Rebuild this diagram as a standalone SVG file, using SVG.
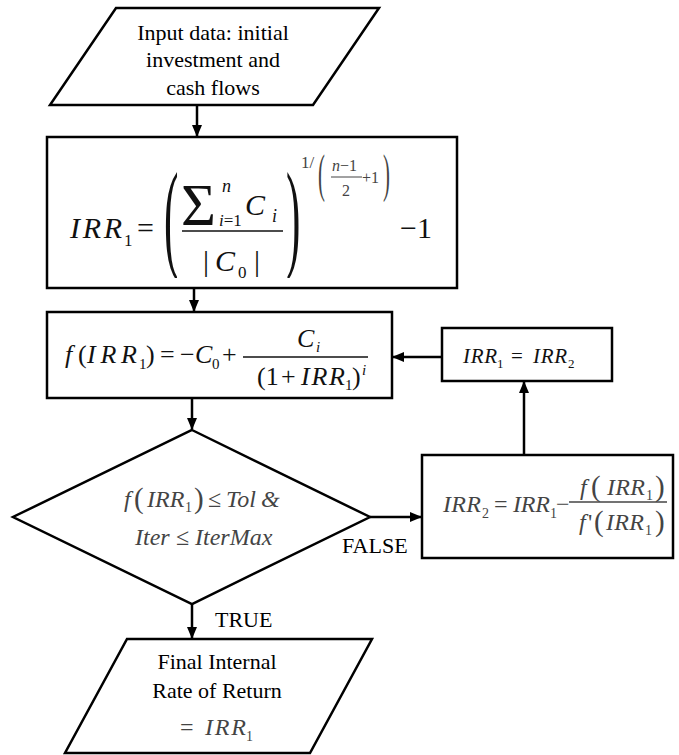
<svg xmlns="http://www.w3.org/2000/svg" width="679" height="755" viewBox="0 0 679 755" font-family="'Liberation Serif', 'Times New Roman', 'DejaVu Serif', serif">
<style>
.shape{fill:#fff;stroke:#000;stroke-width:2.5}
.lbl{font-family:'Liberation Serif','Times New Roman','DejaVu Serif',serif;font-size:22px;fill:#000}
.m{font-family:'Liberation Serif','Times New Roman','DejaVu Serif',serif;fill:#111}
.it{font-style:italic}
.g{fill:#444}
.conn{stroke:#000;stroke-width:2.5;fill:none}
.frac{stroke:#111;stroke-width:1.3}
</style>
<defs>
<marker id="ah" markerUnits="userSpaceOnUse" markerWidth="12" markerHeight="12" viewBox="0 0 12 12" refX="11" refY="6" orient="auto">
<path d="M0,1 L12,6 L0,11 Z" fill="#000"/>
</marker>
<clipPath id="clip1"><rect x="47" y="137" width="410" height="141"/></clipPath>
</defs>

<g id="connectors">
<line class="conn" x1="197" y1="105" x2="197" y2="136" marker-end="url(#ah)"/>
<line class="conn" x1="194" y1="288" x2="194" y2="311" marker-end="url(#ah)"/>
<line class="conn" x1="192" y1="398" x2="192" y2="429" marker-end="url(#ah)"/>
<line class="conn" x1="192" y1="604" x2="192" y2="638" marker-end="url(#ah)"/>
<line class="conn" x1="370" y1="517" x2="421" y2="517" marker-end="url(#ah)"/>
<line class="conn" x1="524" y1="455" x2="524" y2="382" marker-end="url(#ah)"/>
<line class="conn" x1="442" y1="357" x2="393" y2="357" marker-end="url(#ah)"/>
<text class="lbl" x="215" y="627">TRUE</text>
<text class="lbl" x="342" y="553">FALSE</text>
</g>

<g id="input">
<polygon class="shape" points="116,8 379,8 313,105 50,105"/>
<text class="lbl" text-anchor="middle" x="213" y="40">Input data: initial</text>
<text class="lbl" text-anchor="middle" x="213" y="67">investment and</text>
<text class="lbl" text-anchor="middle" x="213" y="95">cash flows</text>
</g>

<g id="irr-initial">
<rect class="shape" x="47" y="137" width="410" height="151"/>
<text class="m it" x="70" y="238" font-size="30" textLength="52" lengthAdjust="spacing">IRR</text>
<text class="m" x="124" y="246" font-size="17">1</text>
<text class="m" x="137" y="238" font-size="30">=</text>
<g clip-path="url(#clip1)">
<text class="m" font-size="120" transform="translate(164,256) scale(0.36,1)">(</text>
<text class="m" font-size="120" transform="translate(286,256) scale(0.36,1)">)</text>
</g>
<text class="m" x="181" y="225" font-size="60">Σ</text>
<text class="m it" x="222" y="192" font-size="18">n</text>
<text class="m" x="219" y="226" font-size="17"><tspan class="it">i</tspan>=1</text>
<text class="m it" x="245" y="215" font-size="30">C</text>
<text class="m it" x="272" y="222" font-size="18">i</text>
<line class="frac" x1="182" y1="231" x2="283" y2="231"/>
<text class="m" x="203" y="271" font-size="30">|</text>
<text class="m it" x="215" y="271" font-size="30">C</text>
<text class="m" x="238" y="278" font-size="17">0</text>
<text class="m" x="254" y="271" font-size="30">|</text>
<g>
<text class="m g" x="301" y="168" font-size="17">1/</text>
<text class="m g" font-size="52" transform="translate(318,191) scale(0.4,1)">(</text>
<text class="m g" x="332" y="171" font-size="16"><tspan class="it">n</tspan>−1</text>
<line x1="331" y1="177" x2="362" y2="177" stroke="#444" stroke-width="1"/>
<text class="m g" x="342" y="196" font-size="16">2</text>
<text class="m g" x="362" y="183" font-size="16">+1</text>
<text class="m g" font-size="52" transform="translate(383,191) scale(0.4,1)">)</text>
</g>
<text class="m" x="400" y="238" font-size="30">−1</text>
</g>

<g id="f-irr">
<rect class="shape" x="47" y="312" width="345" height="86"/>
<text class="m it" x="65" y="363" font-size="26">f</text>
<text class="m" x="78" y="363" font-size="26">(</text>
<text class="m it" x="87" y="363" font-size="26" textLength="50" lengthAdjust="spacing">IRR</text>
<text class="m" x="139" y="369" font-size="15">1</text>
<text class="m" x="146" y="363" font-size="26">)</text>
<text class="m" x="160" y="363" font-size="26">=</text>
<text class="m" x="180" y="363" font-size="26">−</text>
<text class="m it" x="195" y="363" font-size="26">C</text>
<text class="m" x="212" y="369" font-size="15">0</text>
<text class="m" x="222" y="363" font-size="26">+</text>
<line class="frac" x1="243" y1="357" x2="368" y2="357"/>
<text class="m it" x="297" y="347" font-size="26">C</text>
<text class="m it" x="316" y="352" font-size="15">i</text>
<text class="m" x="257" y="385" font-size="26">(1</text>
<text class="m" x="281" y="385" font-size="26">+</text>
<text class="m it" x="301" y="385" font-size="26" textLength="44" lengthAdjust="spacing">IRR</text>
<text class="m" x="345" y="390" font-size="15">1</text>
<text class="m" x="352" y="385" font-size="26">)</text>
<text class="m it" x="362" y="375" font-size="15">i</text>
</g>

<g id="update-irr">
<rect class="shape" x="442" y="328" width="170" height="53"/>
<text class="m it" x="463" y="363" font-size="21" textLength="34" lengthAdjust="spacing">IRR</text>
<text class="m" x="497" y="368" font-size="13">1</text>
<text class="m" x="511" y="363" font-size="21">=</text>
<text class="m it" x="533" y="363" font-size="21" textLength="34" lengthAdjust="spacing">IRR</text>
<text class="m" x="568" y="368" font-size="13">2</text>
</g>

<g id="decision">
<polygon class="shape" points="192,430 370,517 192,604 13,517"/>
<text class="m it g" x="124" y="507" font-size="24">f</text>
<text class="m g" x="134" y="508" font-size="29">(</text>
<text class="m it g" x="147" y="507" font-size="24">IRR</text>
<text class="m g" x="185" y="512" font-size="14">1</text>
<text class="m g" x="194" y="508" font-size="29">)</text>
<text class="m g" x="208" y="507" font-size="24">≤</text>
<text class="m it g" x="226" y="507" font-size="24">Tol</text>
<text class="m it g" x="261" y="507" font-size="24">&amp;</text>
<text class="m it g" x="135" y="545" font-size="24">Iter</text>
<text class="m g" x="176" y="545" font-size="24">≤</text>
<text class="m it g" x="195" y="545" font-size="24">IterMax</text>
</g>

<g id="newton">
<rect class="shape" x="422" y="455" width="251" height="103"/>
<text class="m it g" x="443" y="512" font-size="24" textLength="38" lengthAdjust="spacing">IRR</text>
<text class="m g" x="482" y="518" font-size="14">2</text>
<text class="m g" x="494" y="512" font-size="24">=</text>
<text class="m it g" x="513" y="512" font-size="24" textLength="37" lengthAdjust="spacing">IRR</text>
<text class="m g" x="550" y="518" font-size="14">1</text>
<text class="m g" x="556" y="512" font-size="24">−</text>
<line x1="569" y1="502" x2="667" y2="502" stroke="#444" stroke-width="1.3"/>
<text class="m it g" x="580" y="495" font-size="24">f</text>
<text class="m g" x="591" y="496" font-size="29">(</text>
<text class="m it g" x="607" y="495" font-size="24" textLength="38" lengthAdjust="spacing">IRR</text>
<text class="m g" x="646" y="500" font-size="14">1</text>
<text class="m g" x="655" y="496" font-size="29">)</text>
<text class="m it g" x="579" y="530" font-size="24">f</text>
<text class="m g" x="588" y="530" font-size="24">'</text>
<text class="m g" x="594" y="531" font-size="29">(</text>
<text class="m it g" x="606" y="530" font-size="24" textLength="38" lengthAdjust="spacing">IRR</text>
<text class="m g" x="645" y="535" font-size="14">1</text>
<text class="m g" x="655" y="531" font-size="29">)</text>
</g>

<g id="output">
<polygon class="shape" points="127,639 372,639 310,753 65,753"/>
<text class="lbl" text-anchor="middle" x="217" y="669">Final Internal</text>
<text class="lbl" text-anchor="middle" x="217" y="698">Rate of Return</text>
<text class="m g" x="180" y="735" font-size="24">=</text>
<text class="m it g" x="205" y="735" font-size="24" textLength="41" lengthAdjust="spacing">IRR</text>
<text class="m g" x="246" y="741" font-size="14">1</text>
</g>
</svg>
